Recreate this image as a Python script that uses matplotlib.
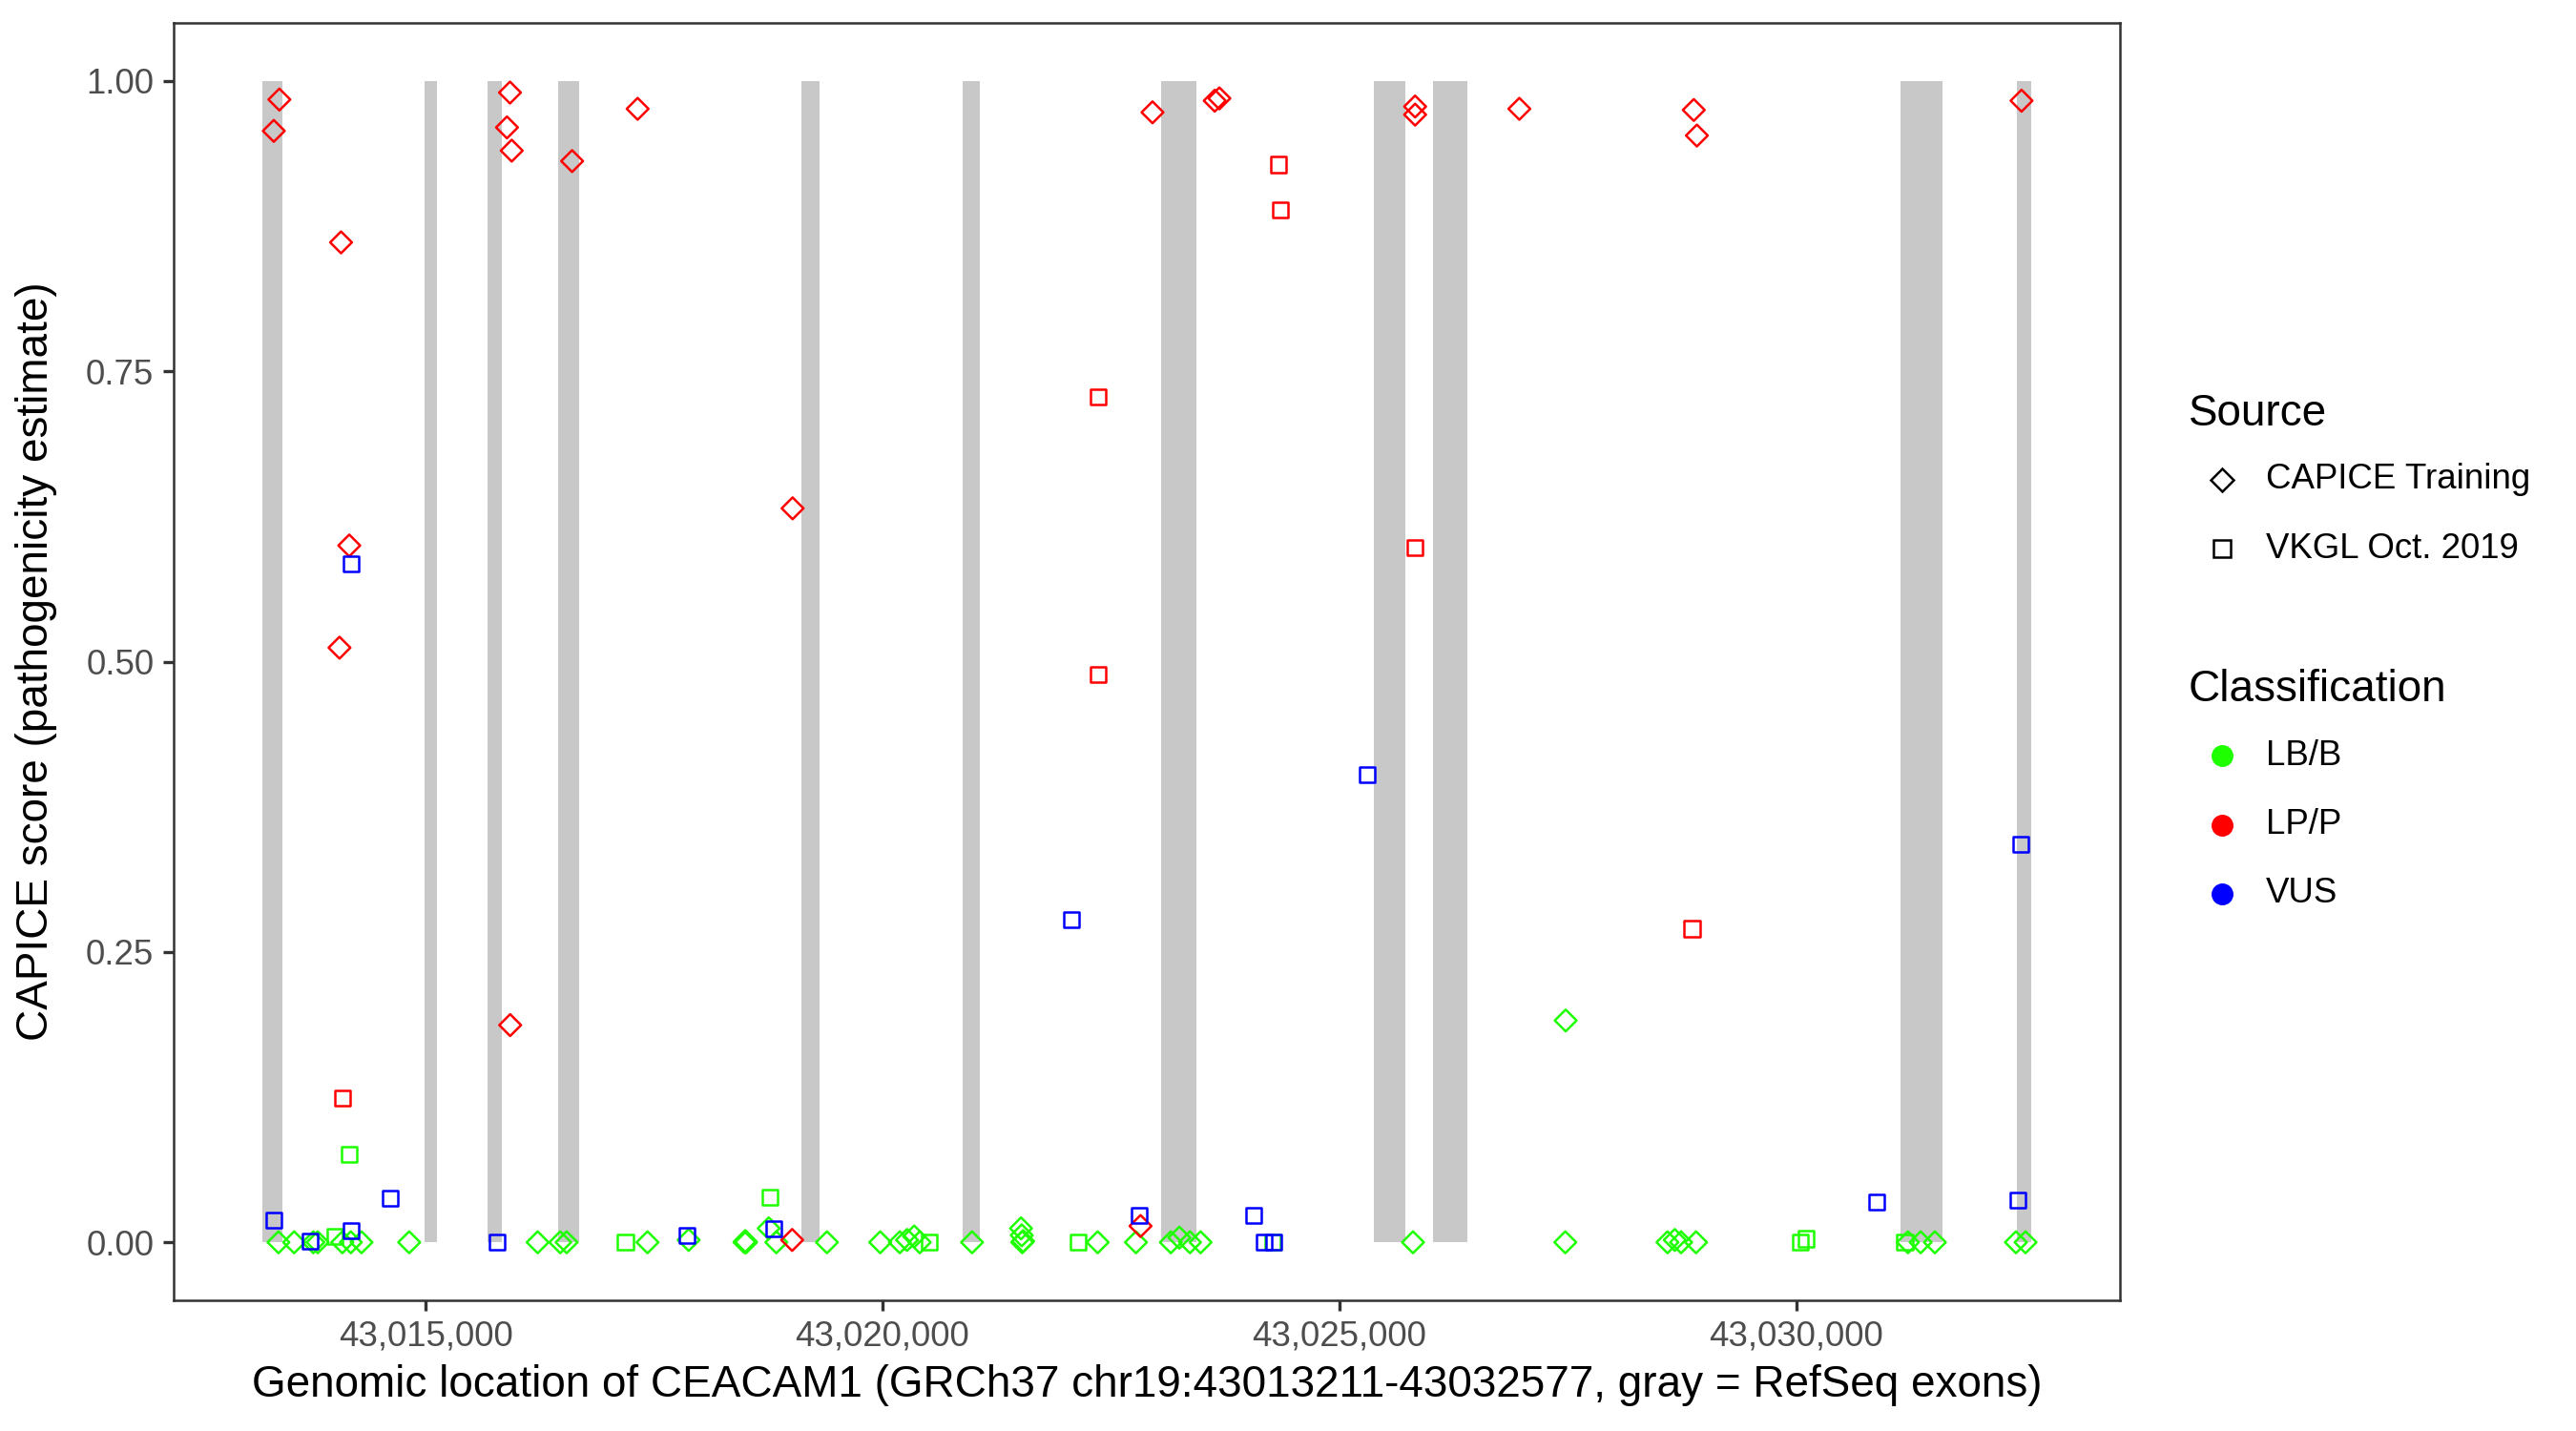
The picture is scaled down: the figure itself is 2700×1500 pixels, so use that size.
import matplotlib
matplotlib.use("Agg")
import matplotlib.pyplot as plt
from matplotlib.lines import Line2D
from matplotlib.ticker import StrMethodFormatter
import numpy as np

# ===== data =====
gene_start = 43013211
gene_end = 43032577

# RefSeq exons (start, end)
exon_starts = [43013211, 43014987, 43015677, 43016450, 43019110, 43020874,
               43023055, 43025374, 43026026, 43031141, 43032413]
exon_ends = [43013437, 43015123, 43015836, 43016679, 43019310, 43021070,
             43023441, 43025728, 43026404, 43031599, 43032577]

# CAPICE training, LP/P
capice_lp_pos = [43013400, 43013339, 43014075, 43014165, 43014058, 43015924,
                 43015891, 43015943, 43015926, 43016604, 43017321, 43019017,
                 43019012, 43022825, 43022956, 43023637, 43023688, 43025830,
                 43025830, 43026971, 43028880, 43028914, 43032467]
capice_lp_score = [0.984, 0.957, 0.861, 0.600, 0.512, 0.990,
                   0.960, 0.940, 0.187, 0.931, 0.976, 0.632,
                   0.002, 0.014, 0.973, 0.983, 0.985, 0.978,
                   0.971, 0.976, 0.975, 0.953, 0.983]

# CAPICE training, LB/B
capice_lb_pos = [43013390, 43013562, 43013772, 43013819, 43014089, 43014182,
                 43014299, 43014821, 43016227, 43016474, 43016544, 43017429,
                 43017880, 43018490, 43018499, 43018508, 43018756, 43018839,
                 43019393, 43019976, 43020190, 43020269, 43020348, 43020409,
                 43020981, 43021517, 43021525, 43021530, 43021540, 43022356,
                 43022775, 43023157, 43023250, 43023366, 43023482, 43025807,
                 43027478, 43027474, 43028592, 43028672, 43028741, 43028905,
                 43031224, 43031363, 43031519, 43032406, 43032511]
capice_lb_score = [0.000, 0.000, 0.000, 0.000, 0.000, 0.000,
                   0.000, 0.000, 0.000, 0.000, 0.000, 0.000,
                   0.002, 0.000, 0.001, 0.000, 0.012, 0.000,
                   0.000, 0.000, 0.000, 0.002, 0.005, 0.000,
                   0.000, 0.012, 0.006, 0.000, 0.001, 0.000,
                   0.000, 0.000, 0.004, 0.000, 0.000, 0.000,
                   0.191, 0.000, 0.000, 0.002, 0.000, 0.000,
                   0.000, 0.000, 0.000, 0.000, 0.000]

# VKGL Oct. 2019, LP/P
vkgl_lp_pos = [43014094, 43022359, 43022359, 43024335, 43024359, 43025826, 43028861]
vkgl_lp_score = [0.124, 0.728, 0.489, 0.928, 0.889, 0.598, 0.270]

# VKGL Oct. 2019, LB/B
vkgl_lb_pos = [43014163, 43014005, 43017187, 43018765, 43020511, 43022142,
               43024275, 43030045, 43030107, 43031189]
vkgl_lb_score = [0.076, 0.005, 0.000, 0.039, 0.000, 0.000,
                 0.000, 0.000, 0.003, 0.000]

# VKGL Oct. 2019, VUS
vkgl_vus_pos = [43013335, 43013740, 43014184, 43014186, 43014611, 43015785,
                43017857, 43018812, 43022071, 43022807, 43024060, 43024181,
                43024284, 43025305, 43030884, 43032424, 43032455]
vkgl_vus_score = [0.019, 0.001, 0.584, 0.010, 0.038, 0.000,
                  0.006, 0.012, 0.278, 0.0235, 0.0235, 0.000,
                  0.000, 0.403, 0.035, 0.036, 0.343]

class_labels = ['LB/B', 'LP/P', 'VUS']
class_colors = ['#1EFF00', '#FF0000', '#0000FF']
source_labels = ['CAPICE Training', 'VKGL Oct. 2019']
source_markers = ['D', 's']

# ===== plot =====
plt.rcParams['font.family'] = ['Liberation Sans', 'DejaVu Sans']

fig = plt.figure(figsize=(9, 5), dpi=300)
ax = fig.add_axes([0.0674, 0.0913, 0.823 - 0.0674, 0.984 - 0.0913])

# exons as gray rectangles from 0 to 1
for s, e in zip(exon_starts, exon_ends):
    ax.fill_between([s, e], 0, 1, color='#C8C8C8', linewidth=0, zorder=1)

green, red, blue = class_colors
groups = [
    (capice_lb_pos, capice_lb_score, 'D', green),
    (capice_lp_pos, capice_lp_score, 'D', red),
    (vkgl_lb_pos, vkgl_lb_score, 's', green),
    (vkgl_lp_pos, vkgl_lp_score, 's', red),
    (vkgl_vus_pos, vkgl_vus_score, 's', blue),
]
for pos, score, mk, col in groups:
    ax.scatter(pos, score, marker=mk, s=15, facecolors='none',
               edgecolors=col, linewidths=0.6, zorder=3)

pad = 0.05 * (gene_end - gene_start)
ax.set_xlim(gene_start - pad, gene_end + pad)
ax.set_ylim(-0.05, 1.05)

ax.set_xticks([43015000, 43020000, 43025000, 43030000])
ax.xaxis.set_major_formatter(StrMethodFormatter('{x:,.0f}'))
ax.set_yticks([0, 0.25, 0.5, 0.75, 1.0])
ax.yaxis.set_major_formatter(StrMethodFormatter('{x:.2f}'))

ax.tick_params(length=2.75, width=0.8, color='#333333', pad=2.2,
               labelsize=8.8, labelcolor='#4D4D4D')
for sp in ax.spines.values():
    sp.set_color('#333333')
    sp.set_linewidth(0.6)

ax.set_xlabel('Genomic location of CEACAM1 (GRCh37 chr19:43013211-43032577, gray = RefSeq exons)',
              fontsize=11, va='center')
ax.xaxis.set_label_coords(0.5, -0.0665)
ax.set_ylabel('CAPICE score (pathogenicity estimate)', fontsize=11, va='center')
ax.yaxis.set_label_coords(-0.0706, 0.5)

# ===== legends (drawn by hand, ggplot style) =====
title_x = 0.8496
mark_x = 0.8626
text_x = 0.8796

fig.text(title_x, 0.7107, 'Source', fontsize=11, va='center', ha='left')
for lab, mk, yy in zip(source_labels, source_markers, [0.6648, 0.6165]):
    fig.add_artist(Line2D([mark_x], [yy], marker=mk, ms=4.2, mfc='none',
                          mec='black', mew=0.6, linestyle='none',
                          transform=fig.transFigure))
    fig.text(text_x, yy, lab, fontsize=8.8, va='center', ha='left')

fig.text(title_x, 0.5178, 'Classification', fontsize=11, va='center', ha='left')
for lab, col, yy in zip(class_labels, class_colors, [0.4719, 0.4236, 0.3754]):
    fig.add_artist(Line2D([mark_x], [yy], marker='o', ms=4.5, mfc=col,
                          mec=col, linestyle='none',
                          transform=fig.transFigure))
    fig.text(text_x, yy, lab, fontsize=8.8, va='center', ha='left')

fig.savefig('out.png', dpi=300)
